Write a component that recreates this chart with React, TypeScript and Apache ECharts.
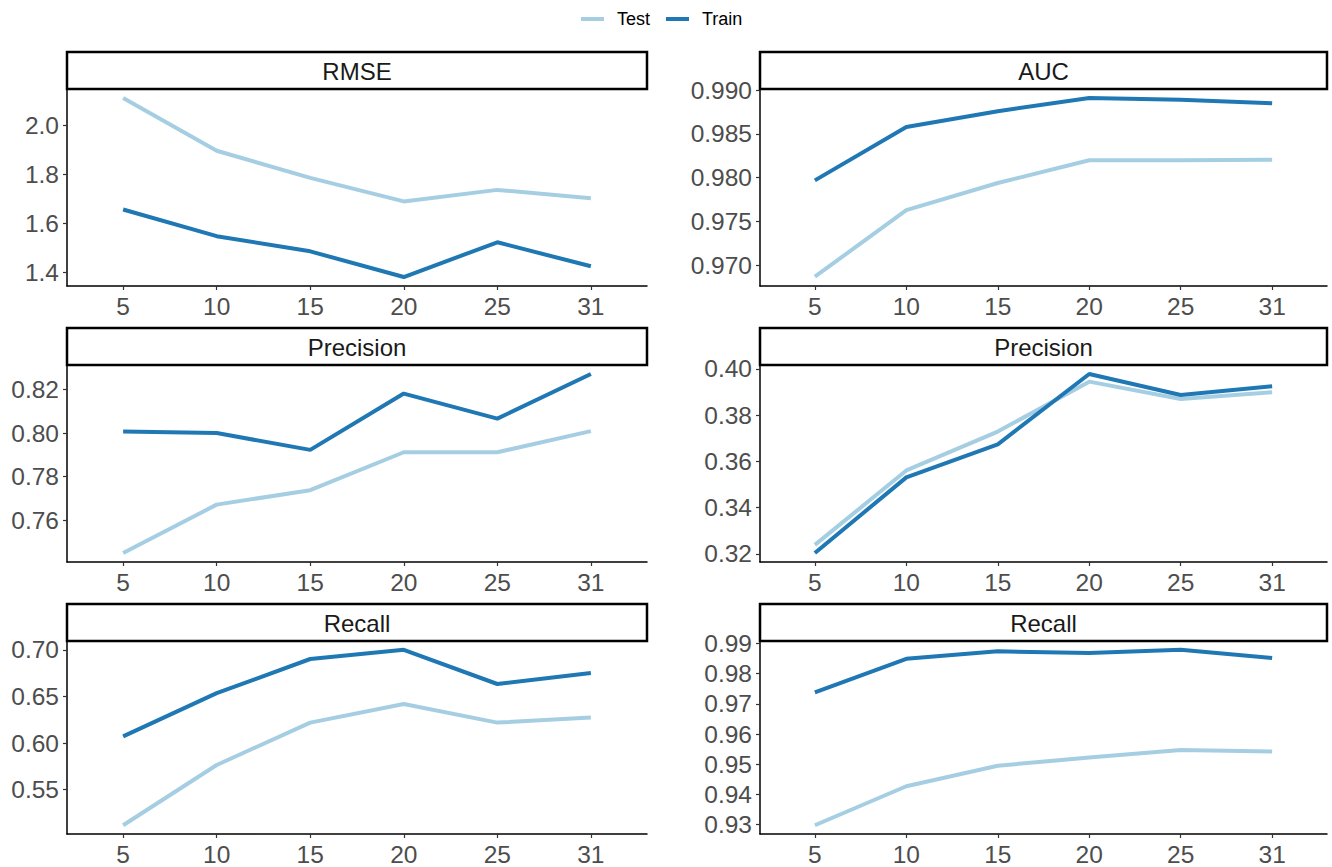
import React, { useEffect, useRef } from "react";
import * as echarts from "echarts";

// ---- data ----
const categories = ["5", "10", "15", "20", "25", "31"];

const rmseTest = [2.112, 1.897, 1.786, 1.690, 1.737, 1.703];
const rmseTrain = [1.657, 1.548, 1.486, 1.381, 1.523, 1.425];
const rmseTicks = [1.4, 1.6, 1.8, 2.0];

const aucTest = [0.9687, 0.9763, 0.9794, 0.9820, 0.9820, 0.98205];
const aucTrain = [0.9797, 0.9858, 0.9876, 0.9891, 0.9889, 0.9885];
const aucTicks = [0.970, 0.975, 0.980, 0.985, 0.990];

const precisionLeftTest = [0.7450, 0.7672, 0.7738, 0.7912, 0.7912, 0.8009];
const precisionLeftTrain = [0.8007, 0.8000, 0.7923, 0.8181, 0.8066, 0.8271];
const precisionLeftTicks = [0.76, 0.78, 0.80, 0.82];

const precisionRightTest = [0.3239, 0.3561, 0.3729, 0.3945, 0.3870, 0.3899];
const precisionRightTrain = [0.3204, 0.3531, 0.3674, 0.3978, 0.3887, 0.3925];
const precisionRightTicks = [0.32, 0.34, 0.36, 0.38, 0.40];

const recallLeftTest = [0.5119, 0.5765, 0.6219, 0.6418, 0.6219, 0.6273];
const recallLeftTrain = [0.6071, 0.6535, 0.6901, 0.7000, 0.6633, 0.6752];
const recallLeftTicks = [0.55, 0.60, 0.65, 0.70];

const recallRightTest = [0.9298, 0.9427, 0.9495, 0.9522, 0.9547, 0.9542];
const recallRightTrain = [0.9738, 0.9849, 0.9874, 0.9868, 0.9879, 0.9852];
const recallRightTicks = [0.93, 0.94, 0.95, 0.96, 0.97, 0.98, 0.99];

// axis limits [min, max]
const rmseLim = [1.3444, 2.1491];
const aucLim = [0.96764, 0.99013];
const precisionLeftLim = [0.7409, 0.8312];
const precisionRightLim = [0.3165, 0.4017];
const recallLeftLim = [0.5025, 0.7094];
const recallRightLim = [0.9269, 0.9908];

const seriesNames = ["Test", "Train"];

// ---- layout / style ----
const TEST_COLOR = "#a6cee3";
const TRAIN_COLOR = "#1f78b4";
const FONT = "Liberation Sans, Arial, Helvetica, sans-serif";
const colLeft = [67, 760];
const colWidth = [580, 567];
const rowTop = [89, 365, 641];
const rowHeight = 197;
const stripHeight = 37;

const panels = [
  { title: "RMSE", test: rmseTest, train: rmseTrain, ticks: rmseTicks, lim: rmseLim, dec: 1, col: 0, row: 0 },
  { title: "AUC", test: aucTest, train: aucTrain, ticks: aucTicks, lim: aucLim, dec: 3, col: 1, row: 0 },
  { title: "Precision", test: precisionLeftTest, train: precisionLeftTrain, ticks: precisionLeftTicks, lim: precisionLeftLim, dec: 2, col: 0, row: 1 },
  { title: "Precision", test: precisionRightTest, train: precisionRightTrain, ticks: precisionRightTicks, lim: precisionRightLim, dec: 2, col: 1, row: 1 },
  { title: "Recall", test: recallLeftTest, train: recallLeftTrain, ticks: recallLeftTicks, lim: recallLeftLim, dec: 2, col: 0, row: 2 },
  { title: "Recall", test: recallRightTest, train: recallRightTrain, ticks: recallRightTicks, lim: recallRightLim, dec: 2, col: 1, row: 2 },
];

export default function App() {
  const ref = useRef<HTMLDivElement>(null);
  useEffect(() => {
    if (!ref.current) return;
    const chart = echarts.init(ref.current, null, { renderer: "svg" });
    const idx = categories.map((_, i) => i + 1);

    const grids: any[] = [];
    const xAxes: any[] = [];
    const yAxes: any[] = [];
    const series: any[] = [];
    const graphics: any[] = [];

    panels.forEach((p, k) => {
      const left = colLeft[p.col];
      const width = colWidth[p.col];
      const top = rowTop[p.row];
      grids.push({ left, top, width, height: rowHeight, containLabel: false });
      xAxes.push({
        type: "value",
        gridIndex: k,
        min: 0.4,
        max: categories.length + 0.6,
        axisLine: { show: true, lineStyle: { color: "#000", width: 1.5 } },
        axisTick: { show: true, length: 4, customValues: idx, lineStyle: { color: "#333", width: 1.2 } },
        axisLabel: {
          show: true,
          customValues: idx,
          formatter: (v: number) => categories[Math.round(v) - 1] ?? "",
          color: "#4d4d4d",
          fontSize: 24.5,
          fontFamily: FONT,
          margin: 8,
        },
        splitLine: { show: false },
      });
      yAxes.push({
        type: "value",
        gridIndex: k,
        min: p.lim[0],
        max: p.lim[1],
        axisLine: { show: true, lineStyle: { color: "#000", width: 1.5 } },
        axisTick: { show: true, length: 4, customValues: p.ticks, lineStyle: { color: "#333", width: 1.2 } },
        axisLabel: {
          show: true,
          customValues: p.ticks,
          formatter: (v: number) => v.toFixed(p.dec),
          color: "#4d4d4d",
          fontSize: 24.5,
          fontFamily: FONT,
          margin: 8,
        },
        splitLine: { show: false },
      });
      const mk = (name: string, vals: number[], color: string) => ({
        type: "line",
        name,
        xAxisIndex: k,
        yAxisIndex: k,
        data: vals.map((v, i) => [idx[i], v]),
        showSymbol: false,
        symbol: "none",
        color,
        lineStyle: { color, width: 4 },
        z: name === "Train" ? 3 : 2,
      });
      series.push(mk(seriesNames[0], p.test, TEST_COLOR));
      series.push(mk(seriesNames[1], p.train, TRAIN_COLOR));

      graphics.push({
        type: "rect",
        shape: { x: left, y: top - stripHeight, width, height: stripHeight },
        style: { fill: "#fff", stroke: "#000", lineWidth: 2.5 },
        z: 10,
      });
      graphics.push({
        type: "text",
        x: left + width / 2,
        y: top - stripHeight / 2 + 1,
        style: {
          text: p.title,
          align: "center",
          verticalAlign: "middle",
          fill: "#1a1a1a",
          fontSize: 24,
          fontFamily: FONT,
        },
        z: 11,
      });
    });

    chart.setOption({
      animation: false,
      backgroundColor: "#fff",
      legend: {
        data: seriesNames,
        top: 5,
        left: 576,
        icon: "rect",
        itemWidth: 23,
        itemHeight: 4,
        itemGap: 16,
        textStyle: { fontSize: 18, color: "#000", fontFamily: FONT, padding: [0, 0, 0, 8] },
      },
      grid: grids,
      xAxis: xAxes,
      yAxis: yAxes,
      series,
      graphic: graphics,
    });
    return () => chart.dispose();
  }, []);
  return (
    <div
      ref={ref}
      style={{ position: "fixed", left: 0, top: 0, width: 1332, height: 867, background: "#fff" }}
    />
  );
}
